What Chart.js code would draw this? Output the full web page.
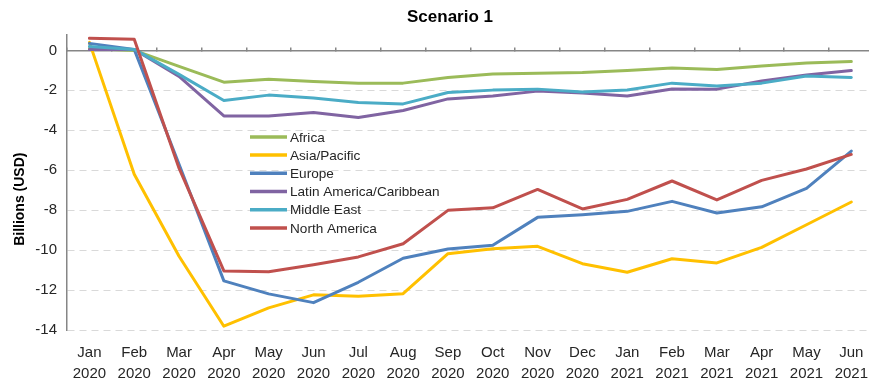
<!DOCTYPE html>
<html>
<head>
<meta charset="utf-8">
<title>Scenario 1</title>
<script src="https://cdn.jsdelivr.net/npm/chart.js@4.4.0/dist/chart.umd.min.js"></script>
<style>
  html, body { margin: 0; padding: 0; background: #fff; overflow: hidden; }
  #wrap { width: 880px; height: 380px; }
</style>
</head>
<body>
<div id="wrap"><canvas id="scenarioChart" width="880" height="380"></canvas></div>
<script>
const months = ['Jan', 'Feb', 'Mar', 'Apr', 'May', 'Jun', 'Jul', 'Aug', 'Sep', 'Oct', 'Nov', 'Dec',
                'Jan', 'Feb', 'Mar', 'Apr', 'May', 'Jun'];
const years = ['2020', '2020', '2020', '2020', '2020', '2020', '2020', '2020', '2020', '2020', '2020', '2020',
               '2021', '2021', '2021', '2021', '2021', '2021'];
const yTicks = [-14, -12, -10, -8, -6, -4, -2, 0];

// billions of USD, monthly
const africa       = [0.1, 0.0, -0.8, -1.59, -1.44, -1.56, -1.64, -1.64, -1.36, -1.18, -1.14, -1.11, -1.01, -0.88, -0.96, -0.78, -0.63, -0.56];
const asiaPacific  = [0.4, -6.2, -10.31, -13.81, -12.89, -12.24, -12.31, -12.18, -10.18, -9.93, -9.81, -10.68, -11.11, -10.43, -10.64, -9.86, -8.73, -7.59];
const europe       = [0.35, 0.05, -5.7, -11.54, -12.19, -12.63, -11.61, -10.41, -9.94, -9.76, -8.36, -8.23, -8.06, -7.56, -8.14, -7.83, -6.91, -5.04];
const latinAmerica = [0.05, 0.05, -1.3, -3.28, -3.28, -3.11, -3.36, -3.01, -2.43, -2.28, -2.04, -2.14, -2.28, -1.93, -1.94, -1.53, -1.23, -1.01];
const middleEast   = [0.2, 0.05, -1.2, -2.51, -2.24, -2.39, -2.61, -2.68, -2.11, -1.99, -1.94, -2.08, -1.98, -1.64, -1.78, -1.64, -1.28, -1.36];
const northAmerica = [0.61, 0.56, -5.9, -11.04, -11.08, -10.73, -10.34, -9.68, -8.01, -7.88, -6.96, -7.94, -7.46, -6.54, -7.49, -6.51, -5.94, -5.21];

const seriesNames = ['Africa', 'Asia/Pacific', 'Europe', 'Latin America/Caribbean', 'Middle East', 'North America'];
const seriesValues = [africa, asiaPacific, europe, latinAmerica, middleEast, northAmerica];
const seriesColors = ['#9BBB59', '#FFC000', '#4F81BD', '#8064A2', '#4BACC6', '#C0504D'];

const FONT = '"Liberation Sans", Arial, sans-serif';
const AXIS_GREY = '#868686';

// legend sits inside the plot, lines + labels in one column
const insideLegend = {
  id: 'insideLegend',
  afterDatasetsDraw(chart) {
    const { ctx, chartArea } = chart;
    const x = chartArea.left + 183;
    const y0 = chartArea.top + 102.5;
    ctx.save();
    ctx.font = '13.6px ' + FONT;
    ctx.textBaseline = 'middle';
    ctx.textAlign = 'left';
    chart.data.datasets.forEach((ds, i) => {
      const y = y0 + i * 18.2;
      ctx.strokeStyle = ds.borderColor;
      ctx.lineWidth = 3.5;
      ctx.beginPath();
      ctx.moveTo(x, y);
      ctx.lineTo(x + 37, y);
      ctx.stroke();
      ctx.fillStyle = '#262626';
      ctx.fillText(ds.label, x + 40, y + 1);
    });
    ctx.restore();
  }
};

// rotated y axis caption, a bit below the plot's middle
const yCaption = {
  id: 'yCaption',
  afterDraw(chart) {
    const { ctx, chartArea } = chart;
    ctx.save();
    ctx.translate(20, (chartArea.top + chartArea.bottom) / 2 + 17);
    ctx.rotate(-Math.PI / 2);
    ctx.font = 'bold 14px ' + FONT;
    ctx.fillStyle = '#000';
    ctx.textAlign = 'center';
    ctx.textBaseline = 'middle';
    ctx.fillText('Billions (USD)', 0, 0);
    ctx.restore();
  }
};

const ctx = document.getElementById('scenarioChart');
new Chart(ctx, {
  type: 'line',
  data: {
    labels: months.map((m, i) => [m, years[i]]),
    datasets: seriesNames.map((name, i) => ({
      label: name,
      data: seriesValues[i],
      borderColor: seriesColors[i],
      backgroundColor: seriesColors[i],
      borderWidth: 3,
      pointRadius: 0,
      tension: 0,
      borderJoinStyle: 'round',
      borderCapStyle: 'round',
      xAxisID: 'x',
      yAxisID: 'y',
      order: seriesNames.length - i
    }))
  },
  options: {
    responsive: false,
    animation: false,
    devicePixelRatio: 1,
    layout: { padding: { left: 20, right: 0, top: 0, bottom: 0 } },
    plugins: {
      legend: { display: false },
      tooltip: { enabled: false },
      title: {
        display: true,
        text: 'Scenario 1',
        color: '#000',
        font: { family: FONT, size: 17, weight: 'bold' },
        padding: { top: 7, bottom: 7 }
      }
    },
    scales: {
      x: {
        type: 'category',
        offset: true,
        grid: { display: false, drawTicks: false },
        border: { display: false },
        ticks: {
          color: '#262626',
          font: { family: FONT, size: 15, lineHeight: 1.4 },
          padding: 12,
          maxRotation: 0,
          autoSkip: false
        },
        afterFit: s => { s.height = 50; }
      },
      // zero line with the small category tick marks on it
      x2: {
        type: 'category',
        labels: months,
        position: { y: 0 },
        offset: true,
        grid: {
          offset: true,
          drawOnChartArea: false,
          drawTicks: true,
          tickLength: -4,
          color: AXIS_GREY,
          lineWidth: 1.5
        },
        border: { display: true, color: AXIS_GREY, width: 1.5 },
        ticks: { display: false }
      },
      y: {
        min: -14,
        max: 0.8,
        ticks: {
          color: '#262626',
          font: { family: FONT, size: 15 },
          padding: 10
        },
        afterBuildTicks: s => { s.ticks = yTicks.map(v => ({ value: v })); },
        grid: {
          drawTicks: false,
          color: c => (c.tick && c.tick.value === 0) ? 'rgba(0,0,0,0)' : '#D9D9D9',
          lineWidth: 1
        },
        border: { display: true, color: AXIS_GREY, width: 1.5, dash: [7, 5] },
        afterFit: s => { s.width = 47; }
      }
    }
  },
  plugins: [insideLegend, yCaption]
});
</script>
</body>
</html>
